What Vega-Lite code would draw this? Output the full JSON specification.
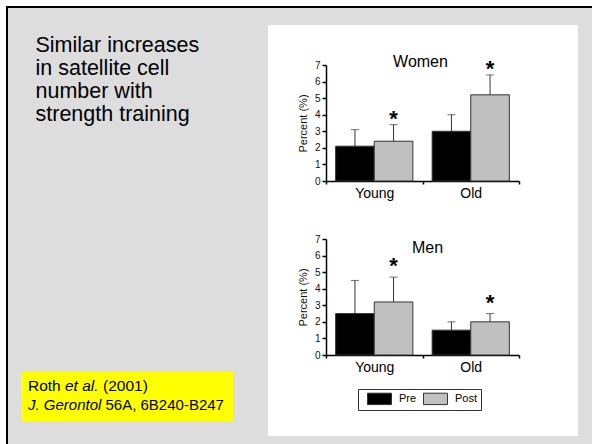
{
  "$schema": "https://vega.github.io/schema/vega-lite/v6.json",
  "background": "white",
  "padding": {"left": 6, "top": 6, "right": 0, "bottom": 0},
  "config": {
    "view": {"fill": "#dddddd", "stroke": null},
    "font": "Liberation Sans",
    "axis": {"labelFont": "Liberation Sans", "titleFont": "Liberation Sans", "domainColor": "black", "tickColor": "black", "labelColor": "#111111", "titleColor": "#111111", "grid": false, "titleFontWeight": "normal"},
    "title": {"font": "Liberation Sans", "fontWeight": "normal", "color": "#111111"},
    "legend": {"labelFont": "Liberation Sans"}
  },
  "datasets": {
    "women": [
      {"age": "Young", "phase": "Pre", "value": 2.1, "upper": 3.1, "star": ""},
      {"age": "Young", "phase": "Post", "value": 2.4, "upper": 3.4, "star": "*"},
      {"age": "Old", "phase": "Pre", "value": 3.0, "upper": 4.0, "star": ""},
      {"age": "Old", "phase": "Post", "value": 5.2, "upper": 6.4, "star": "*"}
    ],
    "men": [
      {"age": "Young", "phase": "Pre", "value": 2.5, "upper": 4.5, "star": ""},
      {"age": "Young", "phase": "Post", "value": 3.2, "upper": 4.7, "star": "*"},
      {"age": "Old", "phase": "Pre", "value": 1.5, "upper": 2.0, "star": ""},
      {"age": "Old", "phase": "Post", "value": 2.0, "upper": 2.5, "star": "*"}
    ]
  },
  "spacing": 0,
  "vconcat": [
    {"width": 586, "height": 2, "data": {"values": []}, "mark": "rect", "encoding": {}, "view": {"fill": "black"}},
    {
      "spacing": 0,
      "hconcat": [
        {"width": 2, "height": 436, "data": {"values": []}, "mark": "rect", "encoding": {}, "view": {"fill": "black"}},
        {
          "columns": 3, "spacing": 0, "bounds": "flush", "align": "each",
          "concat": [
            {"width": 13, "height": 364, "data": {"values": []}, "mark": "rect", "encoding": {}, "view": {"fill": "#dddddd"}},
            {
              "width": 212, "height": 364,
              "view": {"fill": "#dddddd"},
              "data": {"values": [{"heading": "Similar increases\nin satellite cell\nnumber with\nstrength training"}]},
              "mark": {"type": "text", "align": "left", "baseline": "alphabetic", "fontSize": 21.5, "lineBreak": "\n", "lineHeight": 23, "color": "black", "dx": 14.5, "dy": 44},
              "encoding": {"x": {"value": 0}, "y": {"value": 0}, "text": {"field": "heading"}}
            },
            {"width": 35, "height": 364, "data": {"values": []}, "mark": "rect", "encoding": {}, "view": {"fill": "#dddddd"}},
            {"width": 13, "height": 49, "data": {"values": []}, "mark": "rect", "encoding": {}, "view": {"fill": "#dddddd"}},
            {
              "width": 212, "height": 49,
              "view": {"fill": "#ffff00"},
              "data": {"values": [
                {"part": "a", "text": "Roth"},
                {"part": "b", "text": "et al."},
                {"part": "c", "text": "(2001)"},
                {"part": "d", "text": "J. Gerontol"},
                {"part": "e", "text": "56A, 6B240-B247"}
              ]},
              "encoding": {"x": {"value": 0}, "y": {"value": 0}, "text": {"field": "text"}},
              "layer": [
                {"transform": [{"filter": "datum.part == 'a'"}], "mark": {"type": "text", "align": "left", "baseline": "alphabetic", "fontSize": 15.5, "color": "black", "dx": 7, "dy": 19}},
                {"transform": [{"filter": "datum.part == 'b'"}], "mark": {"type": "text", "align": "left", "baseline": "alphabetic", "fontSize": 15.5, "fontStyle": "italic", "color": "black", "dx": 44, "dy": 19}},
                {"transform": [{"filter": "datum.part == 'c'"}], "mark": {"type": "text", "align": "left", "baseline": "alphabetic", "fontSize": 15.5, "color": "black", "dx": 82, "dy": 19}},
                {"transform": [{"filter": "datum.part == 'd'"}], "mark": {"type": "text", "align": "left", "baseline": "alphabetic", "fontSize": 15, "fontStyle": "italic", "color": "black", "dx": 7, "dy": 38}},
                {"transform": [{"filter": "datum.part == 'e'"}], "mark": {"type": "text", "align": "left", "baseline": "alphabetic", "fontSize": 15, "color": "black", "dx": 84.5, "dy": 38}}
              ]
            },
            {"width": 35, "height": 49, "data": {"values": []}, "mark": "rect", "encoding": {}, "view": {"fill": "#dddddd"}},
            {"width": 13, "height": 23, "data": {"values": []}, "mark": "rect", "encoding": {}, "view": {"fill": "#dddddd"}},
            {"width": 212, "height": 23, "data": {"values": []}, "mark": "rect", "encoding": {}, "view": {"fill": "#dddddd"}},
            {"width": 35, "height": 23, "data": {"values": []}, "mark": "rect", "encoding": {}, "view": {"fill": "#dddddd"}}
          ]
        },
        {
          "spacing": 0,
          "vconcat": [
            {"width": 310, "height": 17, "data": {"values": []}, "mark": "rect", "encoding": {}, "view": {"fill": "#dddddd"}},
            {
              "columns": 3, "spacing": 0, "bounds": "flush", "align": "each",
              "resolve": {"scale": {"fill": "independent"}, "legend": {"fill": "independent"}},
              "concat": [
                {"width": 58, "height": 40, "data": {"values": []}, "mark": "rect", "encoding": {}, "view": {"fill": "transparent"}},
                {"width": 193, "height": 40, "data": {"values": []}, "mark": "rect", "encoding": {}, "view": {"fill": "transparent"}},
                {"width": 59, "height": 40, "data": {"values": []}, "mark": "rect", "encoding": {}, "view": {"fill": "transparent"}},
                {"width": 58, "height": 116, "data": {"values": []}, "mark": "rect", "encoding": {}, "view": {"fill": "transparent"}},
                {
                  "width": 193, "height": 116,
                  "view": {"fill": "transparent"},
                  "data": {"name": "women"},
                  "title": {"text": "Women", "fontSize": 16, "fontWeight": "normal", "offset": -12, "dx": -2, "color": "black"},
                  "encoding": {
                    "x": {"field": "age", "type": "nominal", "scale": {"domain": ["Young", "Old"], "paddingInner": 0, "paddingOuter": 0}, "axis": {"title": null, "labelAngle": 0, "labelFontSize": 14, "labelColor": "black", "tickBand": "extent", "tickSize": 3, "tickWidth": 1.5, "domainWidth": 1.5, "labelPadding": 2}},
                    "xOffset": {"field": "phase", "type": "nominal", "scale": {"domain": ["Pre", "Post"], "paddingInner": 0, "paddingOuter": 0.25}}
                  },
                  "layer": [
                    {
                      "mark": {"type": "bar", "stroke": "#333333", "strokeWidth": 1},
                      "encoding": {
                        "y": {"field": "value", "type": "quantitative", "title": "Percent (%)", "scale": {"domain": [0, 7], "nice": false}, "axis": {"values": [0, 1, 2, 3, 4, 5, 6, 7], "tickSize": 4, "tickWidth": 1.5, "domainWidth": 1.5, "labelFontSize": 10, "labelPadding": 2, "titleFontSize": 11, "titlePadding": 6, "labelOverlap": false}},
                        "fill": {"field": "phase", "type": "nominal", "scale": {"domain": ["Pre", "Post"], "range": ["black", "#c0c0c0"]}, "legend": null}
                      }
                    },
                    {
                      "mark": {"type": "rule", "color": "#333333", "strokeWidth": 1},
                      "encoding": {"y": {"field": "value", "type": "quantitative", "title": "Percent (%)", "axis": {"values": [0, 1, 2, 3, 4, 5, 6, 7], "tickSize": 4, "tickWidth": 1.5, "domainWidth": 1.5, "labelFontSize": 10, "labelPadding": 2, "titleFontSize": 11, "titlePadding": 6, "labelOverlap": false}}, "y2": {"field": "upper"}}
                    },
                    {
                      "mark": {"type": "tick", "color": "#333333", "size": 8, "thickness": 1},
                      "encoding": {"y": {"field": "upper", "type": "quantitative", "title": "Percent (%)", "axis": {"values": [0, 1, 2, 3, 4, 5, 6, 7], "tickSize": 4, "tickWidth": 1.5, "domainWidth": 1.5, "labelFontSize": 10, "labelPadding": 2, "titleFontSize": 11, "titlePadding": 6, "labelOverlap": false}}}
                    },
                    {
                      "mark": {"type": "text", "fontSize": 22, "fontWeight": "bold", "baseline": "alphabetic", "color": "black", "dy": 1},
                      "encoding": {"y": {"field": "upper", "type": "quantitative", "title": "Percent (%)", "axis": {"values": [0, 1, 2, 3, 4, 5, 6, 7], "tickSize": 4, "tickWidth": 1.5, "domainWidth": 1.5, "labelFontSize": 10, "labelPadding": 2, "titleFontSize": 11, "titlePadding": 6, "labelOverlap": false}}, "text": {"field": "star"}}
                    }
                  ]
                },
                {"width": 59, "height": 116, "data": {"values": []}, "mark": "rect", "encoding": {}, "view": {"fill": "transparent"}},
                {"width": 58, "height": 58, "data": {"values": []}, "mark": "rect", "encoding": {}, "view": {"fill": "transparent"}},
                {"width": 193, "height": 58, "data": {"values": []}, "mark": "rect", "encoding": {}, "view": {"fill": "transparent"}},
                {"width": 59, "height": 58, "data": {"values": []}, "mark": "rect", "encoding": {}, "view": {"fill": "transparent"}},
                {"width": 58, "height": 116, "data": {"values": []}, "mark": "rect", "encoding": {}, "view": {"fill": "transparent"}},
                {
                  "width": 193, "height": 116,
                  "view": {"fill": "transparent"},
                  "data": {"name": "men"},
                  "title": {"text": "Men", "fontSize": 16, "fontWeight": "normal", "offset": -22, "dx": 5, "color": "black"},
                  "encoding": {
                    "x": {"field": "age", "type": "nominal", "scale": {"domain": ["Young", "Old"], "paddingInner": 0, "paddingOuter": 0}, "axis": {"title": null, "labelAngle": 0, "labelFontSize": 14, "labelColor": "black", "tickBand": "extent", "tickSize": 3, "tickWidth": 1.5, "domainWidth": 1.5, "labelPadding": 2}},
                    "xOffset": {"field": "phase", "type": "nominal", "scale": {"domain": ["Pre", "Post"], "paddingInner": 0, "paddingOuter": 0.25}}
                  },
                  "layer": [
                    {
                      "mark": {"type": "bar", "stroke": "#333333", "strokeWidth": 1},
                      "encoding": {
                        "y": {"field": "value", "type": "quantitative", "title": "Percent (%)", "scale": {"domain": [0, 7], "nice": false}, "axis": {"values": [0, 1, 2, 3, 4, 5, 6, 7], "tickSize": 4, "tickWidth": 1.5, "domainWidth": 1.5, "labelFontSize": 10, "labelPadding": 2, "titleFontSize": 11, "titlePadding": 6, "labelOverlap": false}},
                        "fill": {"field": "phase", "type": "nominal", "scale": {"domain": ["Pre", "Post"], "range": ["black", "#c0c0c0"]}, "legend": {"orient": "none", "legendX": 32, "legendY": 150, "direction": "horizontal", "title": null, "strokeColor": "#333333", "fillColor": "white", "padding": 3, "symbolType": "M-1,0M0,-0.95H4V0.95H0Z", "symbolSize": 144, "symbolStrokeColor": "#333333", "symbolStrokeWidth": 1, "labelFontSize": 11, "labelOffset": 25, "columnPadding": -4, "labelColor": "black"}}
                      }
                    },
                    {
                      "mark": {"type": "rule", "color": "#333333", "strokeWidth": 1},
                      "encoding": {"y": {"field": "value", "type": "quantitative", "title": "Percent (%)", "axis": {"values": [0, 1, 2, 3, 4, 5, 6, 7], "tickSize": 4, "tickWidth": 1.5, "domainWidth": 1.5, "labelFontSize": 10, "labelPadding": 2, "titleFontSize": 11, "titlePadding": 6, "labelOverlap": false}}, "y2": {"field": "upper"}}
                    },
                    {
                      "mark": {"type": "tick", "color": "#333333", "size": 8, "thickness": 1},
                      "encoding": {"y": {"field": "upper", "type": "quantitative", "title": "Percent (%)", "axis": {"values": [0, 1, 2, 3, 4, 5, 6, 7], "tickSize": 4, "tickWidth": 1.5, "domainWidth": 1.5, "labelFontSize": 10, "labelPadding": 2, "titleFontSize": 11, "titlePadding": 6, "labelOverlap": false}}}
                    },
                    {
                      "mark": {"type": "text", "fontSize": 22, "fontWeight": "bold", "baseline": "alphabetic", "color": "black", "dy": -4},
                      "encoding": {"y": {"field": "upper", "type": "quantitative", "title": "Percent (%)", "axis": {"values": [0, 1, 2, 3, 4, 5, 6, 7], "tickSize": 4, "tickWidth": 1.5, "domainWidth": 1.5, "labelFontSize": 10, "labelPadding": 2, "titleFontSize": 11, "titlePadding": 6, "labelOverlap": false}}, "text": {"field": "star"}}
                    }
                  ]
                },
                {"width": 59, "height": 116, "data": {"values": []}, "mark": "rect", "encoding": {}, "view": {"fill": "transparent"}},
                {"width": 58, "height": 81, "data": {"values": []}, "mark": "rect", "encoding": {}, "view": {"fill": "transparent"}},
                {"width": 193, "height": 81, "data": {"values": []}, "mark": "rect", "encoding": {}, "view": {"fill": "transparent"}},
                {"width": 59, "height": 81, "data": {"values": []}, "mark": "rect", "encoding": {}, "view": {"fill": "transparent"}}
              ]
            },
            {"width": 310, "height": 8, "data": {"values": []}, "mark": "rect", "encoding": {}, "view": {"fill": "#dddddd"}}
          ]
        },
        {"width": 14, "height": 436, "data": {"values": []}, "mark": "rect", "encoding": {}, "view": {"fill": "#dddddd"}}
      ]
    }
  ]
}
